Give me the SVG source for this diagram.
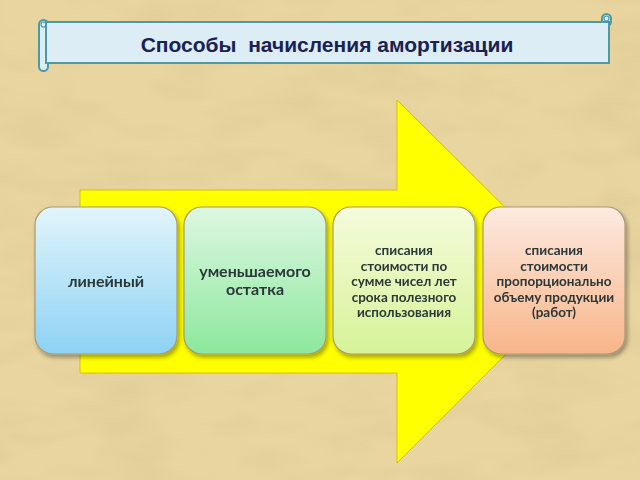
<svg xmlns="http://www.w3.org/2000/svg" width="640" height="480" viewBox="0 0 640 480">
<defs>
<style>
.box{stroke:#a89a78;stroke-width:1.2}
.t1{font-family:Lato,"Open Sans","Noto Sans",sans-serif;font-weight:bold;font-size:16px;fill:#2a3838;text-anchor:middle}
.t2{font-family:Lato,"Open Sans","Noto Sans",sans-serif;font-weight:bold;font-size:13.5px;fill:#2a3838;text-anchor:middle}
.scroll{fill:#dcedf5;stroke:#4d99a6;stroke-width:2}
</style>
<linearGradient id="g1" x1="0" y1="0" x2="0" y2="1"><stop offset="0" stop-color="#e2f5fb"/><stop offset="1" stop-color="#8dd2f4"/></linearGradient>
<linearGradient id="g2" x1="0" y1="0" x2="0" y2="1"><stop offset="0" stop-color="#def7e2"/><stop offset="1" stop-color="#8ce89c"/></linearGradient>
<linearGradient id="g3" x1="0" y1="0" x2="0" y2="1"><stop offset="0" stop-color="#f5fbdc"/><stop offset="1" stop-color="#d6f398"/></linearGradient>
<linearGradient id="g4" x1="0" y1="0" x2="0" y2="1"><stop offset="0" stop-color="#fdeae0"/><stop offset="1" stop-color="#f8b589"/></linearGradient>
<filter id="sh" x="-10%" y="-10%" width="125%" height="125%"><feDropShadow dx="2" dy="3" stdDeviation="2" flood-color="#000" flood-opacity="0.35"/></filter>
<filter id="tex" x="0" y="0" width="100%" height="100%">
<feTurbulence type="fractalNoise" baseFrequency="0.012 0.03" numOctaves="3" seed="4" result="n"/>
<feColorMatrix in="n" type="matrix" values="0 0 0 0 0.55  0 0 0 0 0.42  0 0 0 0 0.18  0 0 0 1.1 -0.45"/>
</filter>
</defs>
<rect width="640" height="480" fill="#e9d5a0"/>
<rect width="640" height="480" filter="url(#tex)" opacity="0.35"/>

<g id="title">
<rect class="scroll" x="39" y="20" width="9" height="51" rx="4.5"/>
<rect class="scroll" x="602" y="14" width="9" height="12" rx="4.5"/>
<rect class="scroll" x="46" y="22" width="563" height="41"/>
<circle cx="43.5" cy="24.5" r="2.5" fill="none" stroke="#4d99a6" stroke-width="1.2"/>
<circle cx="606.5" cy="18.5" r="2.5" fill="none" stroke="#4d99a6" stroke-width="1.2"/>
<text x="327" y="52" font-family="'Liberation Sans',Arial,sans-serif" font-weight="bold" font-size="21" fill="#1b2150" text-anchor="middle" xml:space="preserve">Способы  начисления амортизации</text>
</g>

<g id="arrow">
<polygon points="80,190 397,190 397,100 579,281 397,463 397,373 80,373" fill="#ffff00" stroke="#d4c400" stroke-width="1"/>
</g>

<g id="node1" filter="url(#sh)">
<rect class="box" x="35" y="207" width="142" height="147" rx="18" fill="url(#g1)"/>
<text class="t1" x="106" y="287">линейный</text>
</g>
<g id="node2" filter="url(#sh)">
<rect class="box" x="184" y="207" width="142" height="147" rx="18" fill="url(#g2)"/>
<text class="t1" x="255" y="277">уменьшаемого</text>
<text class="t1" x="255" y="295">остатка</text>
</g>
<g id="node3" filter="url(#sh)">
<rect class="box" x="333" y="207" width="142" height="147" rx="18" fill="url(#g3)"/>
<text class="t2" x="404" y="255">списания</text>
<text class="t2" x="404" y="270.5">стоимости по</text>
<text class="t2" x="404" y="286">сумме чисел лет</text>
<text class="t2" x="404" y="301.5">срока полезного</text>
<text class="t2" x="404" y="317">использования</text>
</g>
<g id="node4" filter="url(#sh)">
<rect class="box" x="483" y="207" width="142" height="147" rx="18" fill="url(#g4)"/>
<text class="t2" x="554" y="255">списания</text>
<text class="t2" x="554" y="270.5">стоимости</text>
<text class="t2" x="554" y="286">пропорционально</text>
<text class="t2" x="554" y="301.5">объему продукции</text>
<text class="t2" x="554" y="317">(работ)</text>
</g>
</svg>
